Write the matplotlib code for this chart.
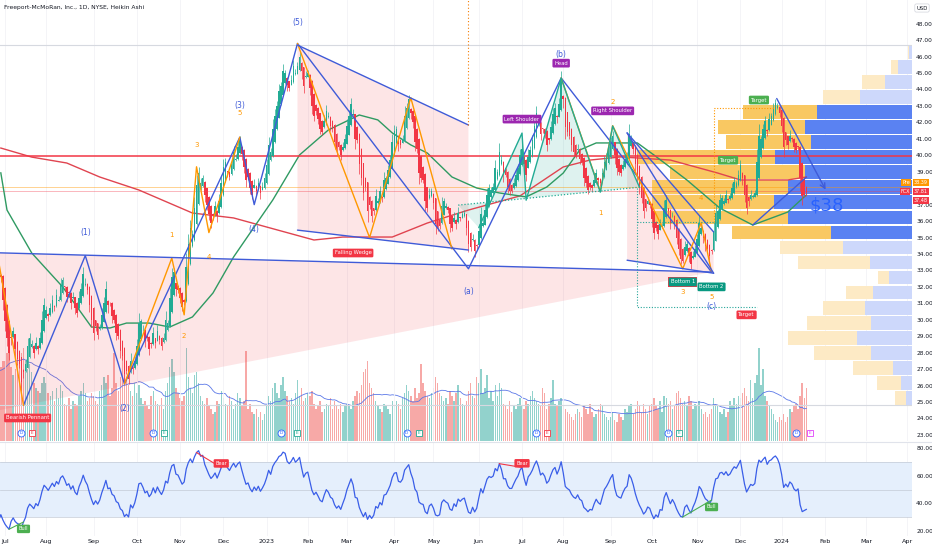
import numpy as np
import pandas as pd
import matplotlib
matplotlib.use("Agg")
import matplotlib.pyplot as plt
from matplotlib.patches import Polygon, Rectangle

plt.rcParams["font.family"] = ["DejaVu Sans"]

# ---------------- data ----------------
# Heikin Ashi closes, FCX daily, Jun 2022 -> Jan 19 2024 (one row per month)
ha_close_2022 = [
    39.2, 38.5, 39.5, 38.8, 40.1, 39.3, 40.0, 38.8, 38.0, 36.7, 37.7, 35.9, 34.6, 35.6, 34.0, 33.0, 34.0, 33.0, 32.0, 32.6, 31.2,
    29.9, 28.9, 28.0, 28.9, 29.3, 28.2, 27.6, 27.3, 26.2, 26.8, 27.3, 28.4, 28.9, 28.5, 28.0, 28.6, 28.2, 28.9, 30.0, 30.9,
    30.6, 30.2, 30.7, 31.2, 30.8, 31.5, 31.2, 32.1, 32.4, 32.0, 31.4, 31.6, 31.0, 31.4, 30.7, 30.4, 31.3, 31.9, 32.8, 32.2, 31.8, 30.9, 30.0,
    29.2, 29.6, 29.1, 29.5, 30.3, 31.0, 31.9, 30.9, 31.0, 30.2, 30.0, 29.2, 29.0, 28.1, 27.8, 26.7, 26.9, 26.4, 27.5, 27.0, 27.5,
    28.4, 29.8, 29.9, 29.4, 28.7, 28.9, 28.2, 28.5, 29.2, 28.6, 29.3, 28.8, 28.4, 28.9, 30.0, 29.8, 31.3, 32.6, 32.9, 31.9, 31.8,
    31.3, 30.8, 31.1, 33.2, 34.6, 35.6, 35.2, 36.8, 38.2, 38.9, 38.3, 38.6, 37.6, 37.0, 36.4, 35.9, 36.3, 36.9, 36.3, 37.2, 38.3,
    39.3, 39.6, 39.0, 38.7, 39.5, 40.2, 39.8, 40.5, 40.9, 40.1, 39.3, 38.5, 38.7, 38.0, 37.6, 38.2, 37.8, 38.3, 37.7, 38.1, 38.6,
]
ha_close_2023 = [
    39.4, 40.6, 40.2, 41.6, 42.4, 43.0, 43.9, 44.2, 45.1, 45.0, 44.3, 44.1, 44.6, 45.4, 45.0, 45.4, 46.0, 45.1, 44.2, 44.8,
    45.0, 44.1, 43.0, 42.4, 42.7, 42.2, 41.6, 41.4, 42.1, 42.7, 42.4, 41.8, 41.6, 40.8, 40.3, 40.5, 40.0, 40.5, 41.0,
    41.8, 42.4, 43.1, 42.5, 41.0, 40.9, 39.5, 38.6, 37.7, 38.1, 36.6, 37.0, 36.3, 36.6, 37.5, 37.2, 37.8, 37.4, 38.5, 38.6, 39.1, 39.7, 40.8,
    41.5, 41.6, 40.7, 40.6, 41.0, 42.4, 42.9, 43.4, 42.6, 42.0, 40.8, 40.4, 38.9, 38.6, 38.5, 37.2, 36.8, 37.6, 37.8,
    37.1, 35.8, 35.6, 35.7, 36.9, 37.2, 36.9, 36.7, 35.8, 35.6, 36.2, 35.8, 36.5, 36.2, 36.4, 36.5, 35.6, 34.6, 34.4, 34.9, 34.2, 34.5,
    35.4, 36.4, 35.9, 36.7, 37.6, 38.0, 37.9, 38.1, 39.2, 39.0, 40.2, 39.7, 38.8, 38.8, 38.1, 37.8, 37.8, 38.3, 38.8, 39.2, 40.0,
    40.4, 39.5, 38.8, 39.9, 40.3, 40.9, 41.8, 42.6, 42.1, 41.3, 41.6, 41.3, 40.6, 40.9, 41.7, 42.5, 42.9, 42.3, 43.1, 44.5,
    43.4, 41.7, 41.4, 41.2, 40.6, 40.2, 40.0, 40.4, 39.8, 39.6, 38.6, 38.3, 37.9, 38.1, 38.0, 38.5, 38.9, 38.5, 38.3, 38.9, 39.6, 39.9, 40.3,
    40.8, 41.2, 40.0, 39.2, 39.0, 38.9, 39.4, 39.8, 40.0, 41.3, 41.0, 40.4, 39.5, 38.7, 38.0, 37.4, 36.6, 36.8, 37.2, 37.0,
    36.1, 35.3, 35.6, 35.2, 35.8, 35.7, 36.8, 37.3, 36.6, 35.9, 36.3, 35.8, 35.0, 34.3, 33.7, 33.6, 34.4, 34.6, 33.9, 33.4, 33.9, 34.3,
    34.9, 35.9, 35.6, 35.0, 34.5, 34.3, 33.9, 34.2, 35.4, 36.5, 36.6, 37.3, 37.4, 37.2, 37.6, 37.3, 37.5, 38.0, 38.4, 38.3, 38.8,
    39.4, 38.6, 37.6, 36.8, 37.2, 37.6, 37.5, 37.7, 39.6, 41.2, 41.0, 41.6, 42.1, 41.5, 42.2, 42.4, 42.9, 43.2, 43.0, 42.6,
]
ha_close_2024 = [41.8, 40.5, 40.9, 40.6, 41.2, 41.0, 40.5, 40.3, 40.5, 38.6, 37.5, 37.6, 37.7]

# volume, millions of shares
volume_2022 = [
    22, 20, 18, 17, 19, 21, 20, 26, 30, 29, 28, 38, 40, 33, 30, 34, 28, 25, 26, 28, 30,
    30, 33, 34, 28, 25, 27, 29, 31, 33, 35, 30, 27, 29, 26, 22, 20, 19, 18, 22, 24,
    22, 18, 17, 19, 15, 20, 16, 21, 19, 14, 13, 16, 12, 15, 14, 13, 17, 19, 22, 18, 15, 16, 18,
    17, 15, 14, 19, 21, 24, 22, 25, 17, 20, 33, 22, 19, 24, 34, 26, 23, 21, 19, 17, 22,
    18, 21, 16, 14, 15, 13, 12, 17, 19, 15, 14, 13, 16, 12, 19, 22, 28, 31, 26, 20, 18,
    16, 15, 17, 35, 24, 20, 18, 25, 26, 22, 17, 15, 14, 16, 13, 12, 10, 11, 15, 14, 19,
    16, 14, 13, 17, 15, 12, 14, 18, 16, 13, 15, 34, 12, 14, 11, 10, 12, 9, 11, 8, 10,
]
volume_2023 = [
    13, 17, 15, 20, 22, 18, 16, 21, 24, 19, 17, 15, 16, 14, 18, 23, 17, 20, 15, 16,
    18, 17, 19, 14, 12, 13, 15, 11, 12, 14, 13, 16, 12, 15, 13, 12, 14, 11, 13,
    14, 13, 12, 15, 17, 19, 18, 21, 26, 27, 30, 22, 20, 18, 15, 13, 12, 11, 14, 13, 12, 10, 15,
    13, 15, 14, 12, 16, 18, 21, 19, 17, 15, 20, 16, 18, 29, 22, 19, 17, 16, 18,
    20, 24, 22, 18, 17, 15, 16, 14, 19, 17, 15, 18, 21, 16, 14, 13, 15, 19, 22, 17, 16, 24,
    22, 27, 18, 20, 25, 16, 19, 15, 21, 17, 22, 20, 14, 13, 12, 15, 11, 13, 12, 14, 16,
    13, 12, 15, 14, 17, 19, 16, 15, 14, 13, 20, 18, 12, 14, 16, 23, 14, 13, 15, 16,
    13, 12, 11, 10, 9, 8, 10, 12, 11, 9, 13, 12, 10, 14, 11, 9, 10, 12, 14, 13, 10, 9, 8,
    9, 11, 8, 7, 10, 9, 8, 12, 11, 13, 14, 10, 12, 15, 13, 11, 14, 12, 10, 13,
    14, 16, 13, 12, 15, 11, 17, 16, 14, 15, 12, 13, 18, 19, 16, 14, 15, 13, 17, 15, 12, 14,
    13, 15, 12, 10, 11, 9, 10, 12, 16, 14, 13, 11, 10, 12, 9, 11, 15, 13, 16, 14, 17,
    16, 18, 20, 17, 15, 23, 16, 22, 25, 35, 21, 27, 17, 15, 13, 12, 10, 8, 7, 9,
]
volume_2024 = [8, 10, 7, 9, 12, 11, 13, 14, 12, 17, 22, 16, 20]

# visible range volume profile, 24 rows from vp_low to vp_high (relative volume)
vp_low, vp_high = 24.80, 46.73
vp_up = [6, 11, 19, 41, 55, 41, 47, 39, 23, 42, 69, 81, 124, 138, 124, 107, 137, 101, 107, 95, 52, 27, 14, 3]
vp_down = [11, 24, 40, 57, 69, 64, 42, 27, 11, 72, 63, 99, 136, 122, 136, 135, 138, 85, 87, 74, 37, 23, 7, 1]
vp_value_rows = range(11, 20)

# moving averages
ma200_dates = ["2022-06-29", "2022-07-21", "2022-08-15", "2022-09-07", "2022-10-04", "2022-11-09",
               "2022-12-08", "2023-01-03", "2023-02-06", "2023-02-27", "2023-03-31", "2023-04-26",
               "2023-05-24", "2023-06-30", "2023-08-01", "2023-08-18", "2023-09-11", "2023-10-13",
               "2023-11-15", "2023-12-01", "2024-01-05", "2024-01-19"]
ma200_vals = [40.44, 39.89, 39.53, 38.68, 37.89, 36.49, 36.19, 35.64, 34.85, 35.03, 35.03, 35.88,
              36.67, 37.53, 39.29, 39.71, 39.90, 39.71, 38.92, 38.50, 38.50, 38.68]
ma50_dates = ["2022-06-29", "2022-07-05", "2022-07-21", "2022-08-11", "2022-08-31", "2022-09-14",
              "2022-09-26", "2022-10-11", "2022-10-25", "2022-11-09", "2022-11-23", "2022-12-08",
              "2022-12-21", "2023-01-06", "2023-01-26", "2023-02-15", "2023-03-09", "2023-03-22",
              "2023-03-31", "2023-04-14", "2023-04-26", "2023-05-12", "2023-05-31", "2023-06-15",
              "2023-07-06", "2023-07-20", "2023-08-01", "2023-08-11", "2023-08-23", "2023-09-11",
              "2023-09-21", "2023-10-03", "2023-10-25", "2023-11-16", "2023-12-11", "2024-01-05",
              "2024-01-19"]
ma50_vals = [38.93, 36.67, 34.06, 32.0, 29.56, 29.5, 29.8, 29.8, 29.56, 30.17, 31.63, 33.82,
             35.46, 37.28, 40.02, 41.54, 42.45, 42.15, 41.36, 40.63, 40.14, 38.68, 38.01, 37.71,
             37.47, 38.07, 38.92, 40.32, 40.75, 40.75, 40.75, 40.02, 38.50, 36.79, 35.76, 36.55,
             37.59]

# ---------------- calendar ----------------
holidays = ["2022-06-20", "2022-07-04", "2022-09-05", "2022-11-24", "2022-12-26",
            "2023-01-02", "2023-01-16", "2023-02-20", "2023-04-07", "2023-05-29",
            "2023-06-19", "2023-07-04", "2023-09-04", "2023-11-23", "2023-12-25",
            "2024-01-01", "2024-01-15", "2024-02-19", "2024-03-29"]
cal = pd.bdate_range("2022-06-01", "2024-04-30", freq="C", holidays=holidays)
i0 = cal.get_loc(pd.Timestamp("2022-07-01"))


def xd(d):
    return cal.get_loc(pd.Timestamp(d)) - i0


close = np.array(ha_close_2022 + ha_close_2023 + ha_close_2024)
volume = np.array(volume_2022 + volume_2023 + volume_2024, dtype=float)
n = len(close)
x = np.arange(n) - i0

# Heikin Ashi opens
ha_open = np.empty(n)
ha_open[0] = close[0]
for k in range(1, n):
    ha_open[k] = (ha_open[k - 1] + close[k - 1]) / 2
prev = np.r_[close[0], close[:-1]]
up = close >= ha_open
ext = 0.12 + 0.35 * np.abs(close - prev)
hi = np.maximum(ha_open, close) + np.where(up, ext, 0.05)
lo = np.minimum(ha_open, close) - np.where(up, 0.05, ext)

# RSI 14 (Wilder)
delta = np.diff(close, prepend=close[0])
avg_gain = pd.Series(np.clip(delta, 0, None)).ewm(alpha=1 / 14, adjust=False).mean()
avg_loss = pd.Series(np.clip(-delta, 0, None)).ewm(alpha=1 / 14, adjust=False).mean()
rsi = (100 - 100 / (1 + avg_gain / avg_loss)).values
vol_ma = pd.Series(volume).rolling(20, min_periods=1).mean().values

# ---------------- colours ----------------
UP, DN = "#22ab94", "#f23645"
BLUE, ORANGE, PURPLE = "#3f5bd8", "#ff9800", "#9c27b0"

# ---------------- figure ----------------
W, H = 932, 550
fig = plt.figure(figsize=(W / 100, H / 100), dpi=100)
ax_vol = fig.add_axes([0, 1 - 441 / H, 912 / W, 441 / H])
ax = fig.add_axes([0, 1 - 441 / H, 912 / W, 441 / H], sharex=ax_vol)
ax.patch.set_visible(False)
ax_rsi = fig.add_axes([0, 1 - 536 / H, 912 / W, 94 / H], sharex=ax_vol)

XMIN, XMAX = -2.4, 440.3
ax.set_xlim(XMIN, XMAX)
ax.set_ylim(22.63, 49.44)
ax_vol.set_ylim(0, 166)

for a in (ax, ax_vol, ax_rsi):
    for s in a.spines.values():
        s.set_visible(False)

# month ticks
month_starts = pd.date_range("2022-07-01", "2024-04-01", freq="MS")
mt, ml = [], []
for m in month_starts:
    k = cal.searchsorted(m)
    mt.append(k - i0)
    ml.append(str(m.year) if m.month == 1 else m.strftime("%b"))

# faint grid
for t in mt:
    ax.axvline(t, color="#f2f3f6", lw=0.6, zorder=0)
    ax_rsi.axvline(t, color="#f2f3f6", lw=0.6, zorder=0)

# volume
vcol = np.where(up, "#92d2cc", "#f7a9a7")
ax_vol.bar(x, volume, width=0.7, color=vcol, linewidth=0, zorder=2)
ax_vol.plot(x, vol_ma, color="#5b78e8", lw=0.6, zorder=3)
ax_vol.set_yticks([])
ax_vol.tick_params(axis="x", length=0, labelbottom=False)

# pattern fills
pennant = Polygon([(xd("2022-06-28"), 34.07), (xd("2023-11-10"), 32.9), (xd("2022-07-15"), 24.8),
                   (xd("2022-06-28"), 24.5)], closed=True, fc=DN, alpha=0.13, ec="none", zorder=0.5)
wedge = Polygon([(xd("2023-01-25"), 46.7), (xd("2023-05-24"), 41.84), (xd("2023-05-24"), 34.24),
                 (xd("2023-01-25"), 35.45)], closed=True, fc=DN, alpha=0.13, ec="none", zorder=0.5)
wedge2 = Polygon([(xd("2023-09-14"), 41.36), (xd("2023-11-13"), 35.34), (xd("2023-11-13"), 32.83),
                  (xd("2023-09-14"), 33.62)], closed=True, fc=DN, alpha=0.13, ec="none", zorder=0.5)
hs_pts = [("2023-05-17", 36.97), ("2023-06-01", 35.6), ("2023-07-03", 41.35), ("2023-07-06", 37.27),
          ("2023-07-31", 44.7), ("2023-08-25", 37.76), ("2023-09-05", 41.78), ("2023-09-22", 38.06)]
hs_xy = [(xd(d), p) for d, p in hs_pts]
hs = Polygon(hs_xy, closed=True, fc=UP, alpha=0.15, ec="none", zorder=0.5)
for p in (pennant, wedge, wedge2, hs):
    ax.add_patch(p)

# volume profile
bin_h = (vp_high - vp_low) / len(vp_up)
px = 1 / 2.06
for r, (u, d) in enumerate(zip(vp_up, vp_down)):
    yc = vp_low + (r + 0.5) * bin_h
    va = r in vp_value_rows
    cu, cd = ("#5a82f2", "#f9c862") if va else ("#cdd8fb", "#fdeac5")
    ax.barh(yc, u * px, left=XMAX - u * px, height=bin_h * 0.92, color=cu, lw=0, zorder=1)
    ax.barh(yc, d * px, left=XMAX - (u + d) * px, height=bin_h * 0.92, color=cd, lw=0, zorder=1)

# range + price lines
ax.axhline(vp_high, color="#d6d9e0", lw=0.8, zorder=1.2)
ax.axhline(vp_low, color="#d6d9e0", lw=0.8, zorder=1.2)
ax.axhline(39.95, color=DN, lw=1.1, zorder=4)
ax.axhline(38.07, color=ORANGE, lw=0.5, alpha=0.6, zorder=1.3)
ax.axhline(37.81, color=DN, lw=0.5, alpha=0.5, zorder=1.3)

# moving averages
ax.plot([xd(d) for d in ma200_dates], ma200_vals, color="#e04450", lw=1.0, zorder=3)
ax.plot([xd(d) for d in ma50_dates], ma50_vals, color="#2f9a62", lw=1.0, zorder=3)

# candles
ccol = np.where(up, UP, DN)
ax.vlines(x, lo, hi, colors=ccol, lw=0.5, zorder=5)
body = np.maximum(np.abs(close - ha_open), 0.04)
ax.bar(x, body, bottom=np.minimum(close, ha_open), width=0.75, color=ccol, linewidth=0, zorder=5)


def line(pts, color, lw=1.0, ls="-", z=6):
    ax.plot([xd(d) for d, _ in pts], [p for _, p in pts], color=color, lw=lw, ls=ls, zorder=z,
            solid_capstyle="round")


# Elliott waves
line([("2022-07-15", 24.8), ("2022-08-26", 33.9), ("2022-09-23", 26.1), ("2022-12-13", 41.1),
      ("2022-12-22", 37.0), ("2023-01-25", 46.8), ("2023-05-24", 33.1), ("2023-07-31", 44.7),
      ("2023-11-10", 32.9)], BLUE)
line([("2022-06-28", 33.5), ("2022-07-15", 24.8)], ORANGE)
line([("2022-09-23", 26.1), ("2022-10-26", 33.75), ("2022-11-03", 30.3), ("2022-11-11", 39.3),
      ("2022-11-21", 35.3), ("2022-12-13", 41.1)], ORANGE)
line([("2023-01-25", 46.8), ("2023-02-24", 39.6), ("2023-03-16", 35.0), ("2023-04-14", 43.5),
      ("2023-05-12", 34.3)], ORANGE)
line([("2023-07-31", 44.7), ("2023-08-25", 37.8), ("2023-09-05", 41.8), ("2023-10-23", 33.1),
      ("2023-11-03", 35.9), ("2023-11-10", 32.9)], ORANGE)
line(hs_pts[1:], UP)
line([hs_pts[0], hs_pts[-1]], UP, lw=0.9, ls=(0, (1, 1.5)))

# pattern borders
line([("2022-06-28", 34.07), ("2023-11-10", 32.9)], BLUE)
line([("2023-01-25", 46.7), ("2023-05-24", 41.84)], BLUE)
line([("2023-01-25", 35.45), ("2023-05-24", 34.24)], BLUE)
line([("2023-09-14", 41.36), ("2023-11-13", 35.34)], BLUE)
line([("2023-09-14", 41.36), ("2023-11-13", 32.83)], BLUE)
line([("2023-09-14", 33.62), ("2023-11-13", 32.83)], BLUE)
line([("2023-12-11", 35.76), ("2024-01-19", 38.67)], BLUE)
ax.annotate("", xy=(xd("2024-02-02"), 37.76), xytext=(xd("2023-12-27"), 43.6),
            arrowprops=dict(arrowstyle="->", color=BLUE, lw=1.0, mutation_scale=9), zorder=6)
ax.text(xd("2024-02-02"), 36.95, "$38", color="#2962ff", fontsize=13, ha="center", va="center",
        family=["Liberation Sans Narrow", "DejaVu Sans"], zorder=7)

# target boxes
line([("2023-09-21", 38.0), ("2023-09-21", 30.77), ("2023-12-13", 30.77)], "#26a69a", lw=0.8, ls=(0, (1, 1.5)))
line([("2023-09-21", 35.93), ("2023-11-16", 35.93)], "#26a69a", lw=0.8, ls=(0, (1, 1.5)))
line([("2023-11-13", 35.93), ("2023-11-13", 42.87), ("2023-12-27", 42.87)], ORANGE, lw=0.8, ls=(0, (1, 1.5)))
line([("2023-05-24", 41.84), ("2023-05-24", 49.5)], "#f57c00", lw=0.8, ls=(0, (1, 2)))

# wave labels
for s, d, p in [("(1)", "2022-08-26", 35.3), ("(2)", "2022-09-23", 24.6), ("(3)", "2022-12-13", 43.05),
                ("(4)", "2022-12-22", 35.5), ("(5)", "2023-01-25", 48.1), ("(a)", "2023-05-24", 31.7),
                ("(b)", "2023-07-31", 46.15), ("(c)", "2023-11-10", 30.8)]:
    ax.text(xd(d), p, s, color=BLUE, fontsize=5.5, ha="center", va="center", zorder=7)
for s, d, p in [("1", "2022-10-26", 35.15), ("2", "2022-11-03", 29.0), ("3", "2022-11-11", 40.6),
                ("4", "2022-11-21", 33.8), ("5", "2022-12-13", 42.55), ("1", "2023-08-25", 36.5),
                ("2", "2023-09-05", 43.25), ("3", "2023-10-23", 31.7), ("4", "2023-11-03", 37.4),
                ("5", "2023-11-10", 31.4)]:
    ax.text(xd(d), p, s, color=ORANGE, fontsize=5, ha="center", va="center", zorder=7)


def tag(axis, xx, yy, s, fc, fs=3.8):
    axis.text(xx, yy, s, fontsize=fs, color="white", ha="center", va="center", zorder=9,
              bbox=dict(boxstyle="round,pad=0.35,rounding_size=0.25", fc=fc, ec="none"))


tag(ax, xd("2022-07-19"), 24.03, "Bearish Pennant", DN)
tag(ax, xd("2023-03-06"), 34.06, "Falling Wedge", DN)
tag(ax, xd("2023-07-03"), 42.2, "Left Shoulder", PURPLE)
tag(ax, xd("2023-07-31"), 45.6, "Head", PURPLE)
tag(ax, xd("2023-09-05"), 42.7, "Right Shoulder", PURPLE)
tag(ax, xd("2023-12-14"), 43.36, "Target", "#4caf50")
tag(ax, xd("2023-11-22"), 39.7, "Target", "#4caf50")
tag(ax, xd("2023-12-06"), 30.3, "Target", DN)
ax.add_patch(Rectangle((xd("2023-10-12"), 32.02), xd("2023-11-01") - xd("2023-10-12"), 0.56,
                       fc=DN, ec="none", zorder=8.5))
tag(ax, xd("2023-10-23"), 32.3, "Bottom 1", "#089981")
tag(ax, xd("2023-11-10"), 32.0, "Bottom 2", "#089981")

# dividends / earnings
for d in ["2022-07-14", "2022-10-13", "2023-01-12", "2023-04-12", "2023-07-13", "2023-10-12", "2024-01-11"]:
    ax_vol.plot(xd(d), 3.0, "o", ms=5, mfc="white", mec="#2962ff", mew=0.6, zorder=8)
    ax_vol.text(xd(d), 3.0, "D", fontsize=3.2, color="#2962ff", ha="center", va="center", zorder=9)
for d, c in [("2022-07-21", DN), ("2022-10-20", UP), ("2023-01-25", UP), ("2023-04-20", UP),
             ("2023-07-20", DN), ("2023-10-19", UP), ("2024-01-23", "#e040fb")]:
    ax_vol.plot(xd(d), 3.0, "s", ms=4.6, mfc="white", mec=c, mew=0.6, zorder=8)
    ax_vol.text(xd(d), 3.0, "E", fontsize=3.2, color=c, ha="center", va="center", zorder=9)

# price axis (38.00 sits under the last-price labels)
ax.yaxis.tick_right()
ax.set_yticks(range(23, 49))
ax.set_yticklabels(["" if v == 38 else f"{v:.2f}" for v in range(23, 49)], fontsize=4.2, color="#131722")
ax.tick_params(axis="y", length=0, pad=3)
ax.tick_params(axis="x", length=0, labelbottom=False)

# price labels
for xx, yy, s, c in [(906, 182.5, "Pre", ORANGE), (921, 182.5, "38.39", ORANGE),
                     (905, 191.5, "FCX", DN), (921, 191.5, "37.81", DN), (921, 200.5, "37.48", DN)]:
    fig.text(xx / W, 1 - yy / H, s, fontsize=3.5, color="white", ha="center", va="center",
             bbox=dict(boxstyle="square,pad=0.15", fc=c, ec="none"))
fig.text(922 / W, 1 - 8 / H, "USD", fontsize=3.8, color="#131722", ha="center", va="center",
         bbox=dict(boxstyle="round,pad=0.3", fc="white", ec="#d1d4dc", lw=0.5))
fig.text(4 / W, 1 - 8 / H, "Freeport-McMoRan, Inc., 1D, NYSE, Heikin Ashi", fontsize=4.3,
         color="#131722", ha="left", va="center")

# panel separator
fig.add_artist(plt.Line2D([0, 1], [1 - 441.5 / H] * 2, color="#e0e3eb", lw=0.8))

# RSI panel
ax_rsi.set_ylim(16.4, 84.6)
ax_rsi.axhspan(30, 70, color="#e5effc", zorder=0, lw=0)
for lv in (70, 50, 30):
    ax_rsi.axhline(lv, color="#c3cad6", lw=0.5, zorder=1)
ax_rsi.plot(x, rsi, color="#3a5ee8", lw=0.9, zorder=3)
for d1, d2, c, s, off in [("2022-07-06", "2022-07-15", "#4caf50", "Bull", -5),
                          ("2022-11-11", "2022-11-30", DN, "Bear", 3),
                          ("2023-06-15", "2023-07-03", DN, "Bear", 3),
                          ("2023-10-23", "2023-11-10", "#4caf50", "Bull", -5)]:
    k1, k2 = xd(d1) + i0, xd(d2) + i0
    ax_rsi.plot([xd(d1), xd(d2)], [rsi[k1], rsi[k2]], color=c, lw=0.8, zorder=4)
    ty = min(max(rsi[k2] + off, 21), 80)
    tag(ax_rsi, xd(d2), ty, s, c, fs=3.6)
ax_rsi.yaxis.tick_right()
ax_rsi.set_yticks([20, 40, 60, 80])
ax_rsi.set_yticklabels(["20.00", "40.00", "60.00", "80.00"], fontsize=4.2, color="#131722")
ax_rsi.tick_params(axis="y", length=0, pad=3)
ax_rsi.set_xticks(mt)
ax_rsi.set_xticklabels(ml, fontsize=4.6, color="#131722")
ax_rsi.tick_params(axis="x", length=0, pad=2.5)
ax_rsi.set_xlim(XMIN, XMAX)

fig.savefig("out.png", dpi=100)
